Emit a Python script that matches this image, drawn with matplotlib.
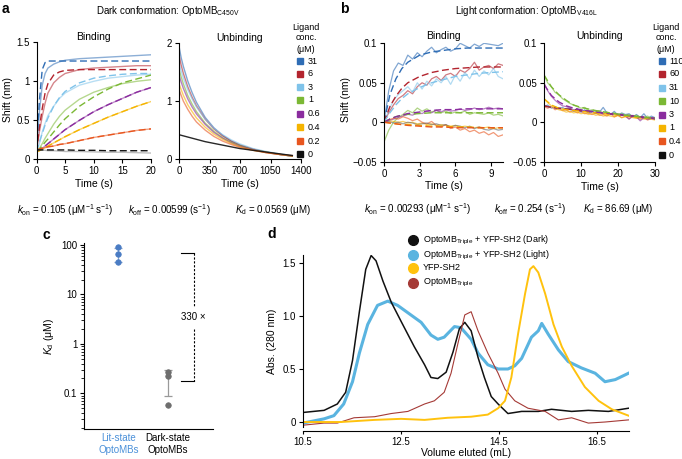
import numpy as np
import matplotlib
matplotlib.use("Agg")
import matplotlib.pyplot as plt
from matplotlib.lines import Line2D

plt.rcParams['font.family'] = ['Liberation Sans', 'DejaVu Sans']
plt.rcParams['mathtext.fontset'] = 'custom'
plt.rcParams['mathtext.rm'] = 'Liberation Sans'
plt.rcParams['mathtext.it'] = 'Liberation Sans:italic'
plt.rcParams['mathtext.bf'] = 'Liberation Sans:bold'
plt.rcParams['font.size'] = 7

# ---------------- data ----------------
# panel a: dark conformation
a_conc = ['31', '6', '3', '1', '0.6', '0.4', '0.2', '0']
a_bind_t = [0, 0.5, 1, 1.5, 2, 3, 4, 5, 7.5, 10, 12.5, 15, 17.5, 20]
a_bind_obs = [
    [0.1, 0.6, 0.95, 1.1, 1.17, 1.22, 1.25, 1.27, 1.29, 1.3, 1.31, 1.32, 1.33, 1.34],
    [0.1, 0.35, 0.55, 0.72, 0.85, 0.98, 1.05, 1.1, 1.15, 1.17, 1.18, 1.19, 1.2, 1.2],
    [0.1, 0.2, 0.35, 0.46, 0.56, 0.68, 0.78, 0.85, 0.95, 1.0, 1.04, 1.06, 1.08, 1.09],
    [0.1, 0.14, 0.2, 0.27, 0.33, 0.45, 0.55, 0.63, 0.77, 0.86, 0.92, 0.97, 1.0, 1.02],
    [0.1, 0.12, 0.14, 0.17, 0.2, 0.26, 0.32, 0.38, 0.5, 0.61, 0.7, 0.78, 0.86, 0.92],
    [0.1, 0.11, 0.13, 0.15, 0.17, 0.21, 0.25, 0.29, 0.38, 0.46, 0.54, 0.61, 0.68, 0.74],
    [0.12, 0.13, 0.14, 0.15, 0.16, 0.17, 0.19, 0.2, 0.24, 0.28, 0.31, 0.34, 0.37, 0.39],
    [0.13, 0.12, 0.12, 0.115, 0.11, 0.11, 0.105, 0.1, 0.1, 0.095, 0.09, 0.09, 0.085, 0.08],
]
a_bind_fit = [
    [0.1, 0.75, 1.15, 1.24, 1.26, 1.26, 1.26, 1.26, 1.26, 1.26, 1.26, 1.26, 1.26, 1.26],
    [0.1, 0.4, 0.65, 0.85, 0.97, 1.08, 1.12, 1.14, 1.15, 1.15, 1.15, 1.15, 1.15, 1.15],
    [0.1, 0.22, 0.33, 0.44, 0.53, 0.68, 0.79, 0.87, 0.98, 1.04, 1.07, 1.09, 1.1, 1.1],
    [0.1, 0.13, 0.17, 0.22, 0.26, 0.35, 0.44, 0.52, 0.68, 0.8, 0.9, 0.98, 1.03, 1.08],
    [0.1, 0.12, 0.14, 0.17, 0.2, 0.26, 0.32, 0.38, 0.5, 0.61, 0.7, 0.78, 0.86, 0.92],
    [0.1, 0.11, 0.13, 0.15, 0.17, 0.21, 0.25, 0.29, 0.38, 0.46, 0.54, 0.61, 0.68, 0.74],
    [0.12, 0.13, 0.14, 0.15, 0.16, 0.17, 0.19, 0.2, 0.24, 0.28, 0.31, 0.34, 0.37, 0.39],
    [0.12, 0.12, 0.12, 0.12, 0.12, 0.12, 0.12, 0.12, 0.115, 0.115, 0.11, 0.11, 0.11, 0.11],
]
a_unbind_t = [0, 25, 50, 100, 150, 200, 300, 400, 500, 600, 700, 850, 1000, 1150, 1300]
a_unbind_obs = [
    [1.95, 1.75, 1.6, 1.35, 1.15, 0.98, 0.72, 0.54, 0.41, 0.31, 0.24, 0.17, 0.12, 0.08, 0.05],
    [1.8, 1.62, 1.48, 1.25, 1.07, 0.92, 0.69, 0.52, 0.4, 0.31, 0.24, 0.17, 0.12, 0.08, 0.05],
    [1.65, 1.52, 1.4, 1.2, 1.04, 0.9, 0.69, 0.53, 0.42, 0.33, 0.26, 0.18, 0.13, 0.09, 0.06],
    [1.55, 1.42, 1.3, 1.1, 0.95, 0.82, 0.62, 0.48, 0.37, 0.29, 0.23, 0.16, 0.12, 0.08, 0.05],
    [1.45, 1.33, 1.22, 1.04, 0.9, 0.78, 0.6, 0.46, 0.36, 0.28, 0.22, 0.16, 0.11, 0.08, 0.05],
    [1.3, 1.2, 1.1, 0.94, 0.82, 0.71, 0.55, 0.43, 0.34, 0.27, 0.21, 0.15, 0.11, 0.08, 0.05],
    [1.2, 1.1, 1.0, 0.86, 0.74, 0.64, 0.5, 0.39, 0.31, 0.25, 0.2, 0.15, 0.11, 0.08, 0.06],
    [0.42, 0.41, 0.4, 0.38, 0.36, 0.34, 0.3, 0.27, 0.24, 0.21, 0.18, 0.15, 0.12, 0.09, 0.06],
]

# panel b: light conformation
b_conc = ['110', '60', '31', '10', '3', '1', '0.4', '0']
b_bind_t = [0, 0.4, 0.8, 1.2, 1.6, 2.0, 2.4, 2.8, 3.2, 3.6, 4.0, 4.4, 4.8, 5.2, 5.6, 6.0,
            6.4, 6.8, 7.2, 7.6, 8.0, 8.4, 8.8, 9.2, 9.6, 10.0]
b_bind_obs = [
    [0.0, 0.04, 0.065, 0.075, 0.072, 0.085, 0.08, 0.088, 0.083, 0.09, 0.095, 0.088, 0.092,
     0.095, 0.09, 0.093, 0.1, 0.097, 0.094, 0.099, 0.096, 0.1, 0.099, 0.098, 0.097, 0.1],
    [0.0, 0.012, 0.022, 0.03, 0.034, 0.04, 0.036, 0.045, 0.05, 0.047, 0.055, 0.058, 0.053,
     0.06, 0.062, 0.058, 0.066, 0.063, 0.068, 0.076, 0.066, 0.07, 0.072, 0.068, 0.074, 0.072],
    [0.0, 0.015, 0.028, 0.035, 0.04, 0.045, 0.038, 0.05, 0.042, 0.052, 0.046, 0.055, 0.05,
     0.058, 0.048, 0.06, 0.052, 0.063, 0.055, 0.066, 0.058, 0.065, 0.06, 0.068, 0.058, 0.055],
    [-0.025, -0.01, 0.0, 0.006, 0.01, 0.015, 0.012, 0.018, 0.014, 0.017, 0.013, 0.015, 0.012,
     0.014, 0.011, 0.013, 0.012, 0.014, 0.01, 0.012, 0.011, 0.01, 0.012, 0.009, 0.01, 0.008],
    [0.0, 0.002, 0.004, 0.006, 0.008, 0.01, 0.009, 0.012, 0.011, 0.014, 0.012, 0.015, 0.013,
     0.016, 0.014, 0.015, 0.017, 0.015, 0.016, 0.018, 0.016, 0.017, 0.019, 0.017, 0.018, 0.017],
    [0.0, 0.002, 0.001, 0.0, 0.001, -0.001, 0.0, -0.002, -0.001, -0.003, -0.002, -0.004, -0.003,
     -0.004, -0.005, -0.004, -0.006, -0.005, -0.006, -0.007, -0.006, -0.007, -0.006, -0.008, -0.007, -0.007],
    [0.0, 0.003, 0.005, 0.004, 0.007, 0.005, 0.002, 0.004, 0.0, -0.002, 0.001, -0.004, -0.006,
     -0.003, -0.008, -0.006, -0.01, -0.008, -0.012, -0.01, -0.014, -0.012, -0.016, -0.013, -0.018, -0.016],
    [0.0, 0.001, -0.001, 0.0, -0.002, 0.0, -0.001, -0.003, -0.002, -0.001, -0.003, -0.002, -0.004,
     -0.003, -0.006, -0.004, -0.005, -0.007, -0.005, -0.008, -0.006, -0.009, -0.01, -0.008, -0.01, -0.009],
]
b_fit_t = [0, 0.5, 1, 1.5, 2, 3, 4, 5, 6, 7, 8, 9, 10]
b_bind_fit = [
    [0, 0.035, 0.055, 0.068, 0.076, 0.085, 0.089, 0.091, 0.093, 0.094, 0.094, 0.094, 0.094],
    [0, 0.02, 0.033, 0.043, 0.05, 0.058, 0.063, 0.066, 0.068, 0.069, 0.07, 0.07, 0.07],
    [0, 0.012, 0.022, 0.03, 0.036, 0.044, 0.05, 0.054, 0.058, 0.06, 0.062, 0.063, 0.064],
    [0, 0.004, 0.007, 0.009, 0.01, 0.011, 0.012, 0.012, 0.012, 0.012, 0.012, 0.012, 0.012],
    [0, 0.004, 0.007, 0.009, 0.011, 0.013, 0.015, 0.016, 0.016, 0.017, 0.017, 0.017, 0.017],
    [0, -0.001, -0.002, -0.003, -0.003, -0.004, -0.005, -0.005, -0.006, -0.006, -0.007, -0.007, -0.007],
    [0, -0.001, -0.002, -0.003, -0.004, -0.005, -0.006, -0.006, -0.007, -0.007, -0.007, -0.007, -0.007],
]
b_unbind_t = list(range(31))
b_unbind_obs = {
    '110': [0.02, 0.022, 0.018, 0.02, 0.017, 0.019, 0.016, 0.018, 0.014, 0.017, 0.013, 0.016, 0.012,
            0.015, 0.011, 0.013, 0.019, 0.012, 0.01, 0.014, 0.009, 0.012, 0.01, 0.011, 0.007, 0.01,
            0.006, 0.011, 0.005, 0.008, 0.006],
    '0.4': [0.02, 0.018, 0.02, 0.016, 0.018, 0.015, 0.016, 0.013, 0.015, 0.012, 0.014, 0.011, 0.012,
            0.01, 0.012, 0.009, 0.01, 0.008, 0.011, 0.007, 0.009, 0.006, 0.008, 0.005, 0.007, 0.006,
            0.004, 0.006, 0.003, 0.005, 0.004],
    '1': [0.03, 0.025, 0.021, 0.018, 0.016, 0.015, 0.013, 0.014, 0.012, 0.013, 0.011, 0.012, 0.01,
          0.011, 0.009, 0.01, 0.008, 0.009, 0.008, 0.007, 0.009, 0.006, 0.007, 0.008, 0.006, 0.005,
          0.007, 0.004, 0.005, 0.004, 0.003],
    '3': [0.05, 0.04, 0.033, 0.028, 0.024, 0.021, 0.02, 0.018, 0.016, 0.017, 0.014, 0.015, 0.013,
          0.014, 0.012, 0.013, 0.011, 0.012, 0.01, 0.011, 0.009, 0.01, 0.008, 0.004, 0.009, 0.007,
          0.002, 0.006, 0.004, 0.005, 0.004],
    '10': [0.06, 0.05, 0.045, 0.038, 0.035, 0.03, 0.027, 0.024, 0.022, 0.02, 0.018, 0.019, 0.015,
           0.016, 0.014, 0.015, 0.012, 0.013, 0.011, 0.012, 0.01, 0.011, 0.009, 0.01, 0.008, 0.009,
           0.007, 0.006, 0.008, 0.005, 0.006],
}
b_unfit_t = [0, 2, 4, 6, 8, 10, 14, 18, 22, 26, 30]
b_unbind_fit = {
    '110': [0.021, 0.019, 0.018, 0.017, 0.016, 0.015, 0.013, 0.011, 0.009, 0.007, 0.005],
    '60': [0.021, 0.019, 0.018, 0.017, 0.016, 0.015, 0.013, 0.011, 0.009, 0.007, 0.005],
    '1': [0.03, 0.022, 0.018, 0.016, 0.015, 0.014, 0.012, 0.01, 0.008, 0.006, 0.005],
    '3': [0.048, 0.034, 0.026, 0.021, 0.018, 0.016, 0.013, 0.011, 0.009, 0.007, 0.005],
    '10': [0.06, 0.045, 0.035, 0.028, 0.022, 0.019, 0.015, 0.012, 0.009, 0.007, 0.005],
}

# panel c
kd_groups = ['Lit-state\nOptoMBs', 'Dark-state\nOptoMBs']
kd_lit = [90, 66, 46]
kd_dark = [0.27, 0.22, 0.058]
kd_mean = [67, 0.19]
kd_sd = [22, 0.10]

# panel d: size exclusion
d_dark_x = [10.5, 10.93, 11.2, 11.37, 11.51, 11.65, 11.78, 11.89, 11.99, 12.13, 12.3, 12.5, 12.77,
            12.98, 13.11, 13.25, 13.42, 13.56, 13.69, 13.8, 13.93, 14.07, 14.2, 14.34, 14.48,
            14.68, 14.96, 15.3, 15.57, 15.98, 16.32, 16.73, 17.14]
d_dark_y = [0.09, 0.11, 0.17, 0.28, 0.58, 1.04, 1.44, 1.57, 1.52, 1.33, 1.13, 0.95, 0.71, 0.54,
            0.42, 0.41, 0.47, 0.66, 0.88, 0.94, 0.86, 0.61, 0.42, 0.24, 0.17, 0.08, 0.10, 0.10,
            0.12, 0.10, 0.11, 0.10, 0.13]
d_light_x = [10.5, 10.93, 11.13, 11.33, 11.51, 11.65, 11.82, 12.02, 12.23, 12.43, 12.7, 12.91,
             13.11, 13.25, 13.38, 13.59, 13.72, 13.93, 14.07, 14.27, 14.48, 14.68, 14.82, 14.96,
             15.16, 15.3, 15.37, 15.5, 15.71, 15.91, 16.18, 16.46, 16.66, 16.87, 17.14]
d_light_y = [-0.01, 0.03, 0.06, 0.17, 0.38, 0.65, 0.92, 1.10, 1.14, 1.10, 1.01, 0.94, 0.82,
             0.78, 0.80, 0.90, 0.89, 0.78, 0.65, 0.54, 0.50, 0.50, 0.53, 0.60, 0.80, 0.86, 0.93,
             0.83, 0.68, 0.57, 0.51, 0.46, 0.38, 0.40, 0.46]
d_yfp_x = [10.5, 11.27, 11.96, 12.5, 12.98, 13.45, 13.93, 14.27, 14.48, 14.62, 14.75, 14.89,
           15.03, 15.13, 15.2, 15.3, 15.44, 15.61, 15.78, 15.98, 16.25, 16.53, 16.8, 17.14]
d_yfp_y = [0.0, 0.0, 0.02, 0.03, 0.02, 0.04, 0.05, 0.07, 0.13, 0.2, 0.42, 0.84, 1.21, 1.44,
           1.47, 1.41, 1.21, 0.92, 0.71, 0.53, 0.33, 0.2, 0.12, 0.06]
d_mb_x = [10.5, 10.93, 11.2, 11.54, 11.96, 12.3, 12.64, 12.98, 13.18, 13.38, 13.52, 13.66, 13.8,
          13.93, 14.07, 14.27, 14.48, 14.62, 14.82, 15.09, 15.44, 15.71, 15.98, 16.32, 16.66, 17.14]
d_mb_y = [-0.03, -0.01, -0.01, 0.04, 0.05, 0.08, 0.10, 0.17, 0.20, 0.28, 0.46, 0.74, 1.01, 1.04,
          0.86, 0.65, 0.46, 0.31, 0.20, 0.13, 0.10, 0.02, 0.04, -0.01, 0.0, 0.02]

# ---------------- styles ----------------
a_colors = ['#2f6db5', '#b3242e', '#7fc3ea', '#7bb834', '#8a2c9e', '#f5b400', '#e8561f', '#111111']
b_colors = a_colors
W, H = 682, 459
fig = plt.figure(figsize=(W / 100, H / 100), dpi=100)


def add_ax(l, t, r, b):
    ax = fig.add_axes([l / W, 1 - b / H, (r - l) / W, (b - t) / H])
    for s in ['top', 'right']:
        ax.spines[s].set_visible(False)
    for s in ['left', 'bottom']:
        ax.spines[s].set_linewidth(0.8)
    ax.tick_params(length=3, width=0.8, labelsize=7, pad=2)
    return ax


def ftext(x, y, s, **kw):
    kw.setdefault('ha', 'center')
    kw.setdefault('va', 'center')
    kw.setdefault('fontsize', 7)
    return fig.text(x / W, 1 - y / H, s, **kw)


def legend_squares(x_sq, x_lab, ys, labels, colors, title_x):
    ftext(title_x, 27, 'Ligand', fontsize=6.5)
    ftext(title_x, 38, 'conc.', fontsize=6.5)
    ftext(title_x, 49, '(μM)', fontsize=6.5)
    for y, lab, c in zip(ys, labels, colors):
        fig.add_artist(Line2D([x_sq / W], [1 - y / H], marker='s', ms=4.2, color=c,
                              transform=fig.transFigure))
        ftext(x_lab, y, lab, ha='left', fontsize=6.5)


# ---------------- panel a ----------------
ftext(5, 9, 'a', fontsize=10, fontweight='bold')
ftext(168, 11, r'Dark conformation: OptoMB$_{\mathrm{C450V}}$', fontsize=7)

ax = add_ax(36.5, 42.3, 151, 159.3)
for obs, fit, c in zip(a_bind_obs, a_bind_fit, a_colors):
    oc = '#888888' if c == '#111111' else c
    ax.plot(a_bind_t, obs, color=oc, lw=1.0, alpha=0.55)
    ax.plot(a_bind_t, fit, color=c, lw=1.0, ls=(0, (5, 2.5)))
ax.set_xlim(0, 20)
ax.set_ylim(0, 1.5)
ax.set_xticks([0, 5, 10, 15, 20])
ax.set_yticks([0, 0.5, 1, 1.5])
ax.set_yticklabels(['0', '0.5', '1', '1.5'])
ax.set_xlabel('Time (s)', fontsize=7.5, labelpad=2)
ax.set_title('Binding', fontsize=7.5, pad=2)
ftext(8, 100, 'Shift (nm)', rotation=90, fontsize=7.5)

ax = add_ax(179, 43.3, 301, 159)
for obs, c in zip(a_unbind_obs, a_colors):
    ax.plot(a_unbind_t, obs, color=c, lw=1.0, alpha=0.9 if c == '#111111' else 0.6)
ax.set_xlim(0, 1400)
ax.set_ylim(0, 2)
ax.set_xticks([0, 350, 700, 1050, 1400])
ax.set_yticks([0, 1, 2])
ax.set_xlabel('Time (s)', fontsize=7.5, labelpad=2)
ax.set_title('Unbinding', fontsize=7.5, pad=2)

legend_squares(300, 308, [61, 74, 87, 100, 114, 127, 141, 154], a_conc, a_colors, 306)

ftext(65, 210, r'$k_{\mathrm{on}}$ = 0.105 (μM$^{-1}$ s$^{-1}$)')
ftext(169, 210, r'$k_{\mathrm{off}}$ = 0.00599 (s$^{-1}$)')
ftext(273, 210, r'$K_{\mathrm{d}}$ = 0.0569 (μM)')

# ---------------- panel b ----------------
ftext(344, 9, 'b', fontsize=10, fontweight='bold')
ftext(526, 11, r'Light conformation: OptoMB$_{\mathrm{V416L}}$', fontsize=7)

ax = add_ax(384, 43.3, 503, 161.7)
for obs, c in zip(b_bind_obs, b_colors):
    oc = '#666666' if c == '#111111' else c
    ax.plot(b_bind_t, obs, color=oc, lw=0.9, alpha=0.6)
for fit, c in zip(b_bind_fit, b_colors):
    ax.plot(b_fit_t, fit, color=c, lw=1.0, ls=(0, (5, 2.5)))
ax.set_xlim(0, 10)
ax.set_ylim(-0.05, 0.1)
ax.set_xticks([0, 3, 6, 9])
ax.set_yticks([-0.05, 0, 0.05, 0.1])
ax.set_yticklabels(['\u22120.05', '0', '0.05', '0.1'])
ax.set_xlabel('Time (s)', fontsize=7.5, labelpad=2)
ax.set_title('Binding', fontsize=7.5, pad=3)
ftext(346, 100, 'Shift (nm)', rotation=90, fontsize=7.5)

ax = add_ax(544, 43.3, 655, 162)
bc = dict(zip(b_conc, b_colors))
for k, obs in b_unbind_obs.items():
    ax.plot(b_unbind_t, obs, color=bc[k], lw=0.9, alpha=0.6)
for k, fit in b_unbind_fit.items():
    ax.plot(b_unfit_t, fit, color=bc[k], lw=1.0, ls=(0, (5, 2.5)))
ax.set_xlim(0, 30)
ax.set_ylim(-0.05, 0.1)
ax.set_xticks([0, 10, 20, 30])
ax.set_yticks([-0.05, 0, 0.05, 0.1])
ax.set_yticklabels(['\u22120.05', '0', '0.05', '0.1'])
ax.set_xlabel('Time (s)', fontsize=7.5, labelpad=2)
ax.set_title('Unbinding', fontsize=7.5, pad=3)

legend_squares(662, 669, [61, 74, 88, 101, 115, 128, 141, 155], b_conc, b_colors, 666)

ftext(418, 209, r'$k_{\mathrm{on}}$ = 0.00293 (μM$^{-1}$ s$^{-1}$)')
ftext(530, 209, r'$k_{\mathrm{off}}$ = 0.254 (s$^{-1}$)')
ftext(618, 209, r'$K_{\mathrm{d}}$ = 86.69 (μM)')

# ---------------- panel c ----------------
ftext(46, 235, 'c', fontsize=10, fontweight='bold')
ax = add_ax(84.3, 243, 213, 429.3)
ax.set_yscale('log')
ax.set_ylim(0.0187, 110)
ax.set_xlim(-0.69, 1.92)
pt_colors = ['#4a7cc4', '#6e6e6e']
bar_colors = ['#8aa4cc', '#9a9a9a']
for i, vals in enumerate([kd_lit, kd_dark]):
    ax.errorbar([i], [kd_mean[i]], yerr=[kd_sd[i]], fmt='none', ecolor=bar_colors[i],
                elinewidth=0.9, capsize=3, capthick=0.9)
    ax.plot([i] * len(vals), vals, 'o', ms=4, color=pt_colors[i], mec=pt_colors[i], mew=0.5)
ax.set_xticks([0, 1])
ax.set_xticklabels(kd_groups, fontsize=7)
ax.tick_params(axis='x', length=0, pad=3)
ax.get_xticklabels()[0].set_color('#4a90d9')
ax.set_yticks([0.1, 1, 10, 100])
ax.set_yticklabels(['0.1', '1', '10', '100'])
ax.tick_params(axis='y', which='minor', length=2, width=0.6)
ax.set_ylabel(r'$K_{\mathrm{d}}$ (μM)', fontsize=7.5, labelpad=4)
# fold-change bracket
ax.plot([1.28, 1.53], [68, 68], color='black', lw=0.8)
ax.plot([1.28, 1.53], [0.18, 0.18], color='black', lw=0.8)
ax.plot([1.53, 1.53], [68, 5.5], color='black', lw=0.8, ls=(0, (2, 1.5)))
ax.plot([1.53, 1.53], [2.0, 0.18], color='black', lw=0.8, ls=(0, (2, 1.5)))
ax.text(1.53, 3.5, '330 \u00d7', ha='center', va='center', fontsize=7)

# ---------------- panel d ----------------
ftext(272, 234, 'd', fontsize=10, fontweight='bold')
ax = add_ax(303, 255, 629, 427)
ax.spines['bottom'].set_position(('outward', 3))
ax.tick_params(axis='x', length=2.5, pad=1.5)
ax.plot(d_light_x, d_light_y, color='#5ab4e0', lw=2.2)
ax.plot(d_dark_x, d_dark_y, color='#111111', lw=1.1)
ax.plot(d_mb_x, d_mb_y, color='#a53a36', lw=0.8)
ax.plot(d_yfp_x, d_yfp_y, color='#ffc20e', lw=1.4)
ax.set_xlim(10.5, 17.15)
ax.set_ylim(-0.047, 1.575)
ax.set_xticks([10.5, 12.5, 14.5, 16.5])
ax.set_yticks([0, 0.5, 1.0, 1.5])
ax.set_yticklabels(['0', '0.5', '1.0', '1.5'])
ax.set_xlabel('Volume eluted (mL)', fontsize=7.5, labelpad=1)
ax.set_ylabel('Abs. (280 nm)', fontsize=7.5, labelpad=4)

d_labels = [r'OptoMB$_{\mathrm{Triple}}$ + YFP-SH2 (Dark)',
            r'OptoMB$_{\mathrm{Triple}}$ + YFP-SH2 (Light)',
            'YFP-SH2',
            r'OptoMB$_{\mathrm{Triple}}$']
d_colors = ['#111111', '#5ab4e0', '#ffc20e', '#a53a36']
for y, lab, c in zip([240, 255, 268, 283], d_labels, d_colors):
    fig.add_artist(Line2D([413 / W], [1 - y / H], marker='o', ms=7, color=c,
                          transform=fig.transFigure))
    ftext(423, y, lab, ha='left', fontsize=6.5)

fig.savefig('out.png', dpi=100)
